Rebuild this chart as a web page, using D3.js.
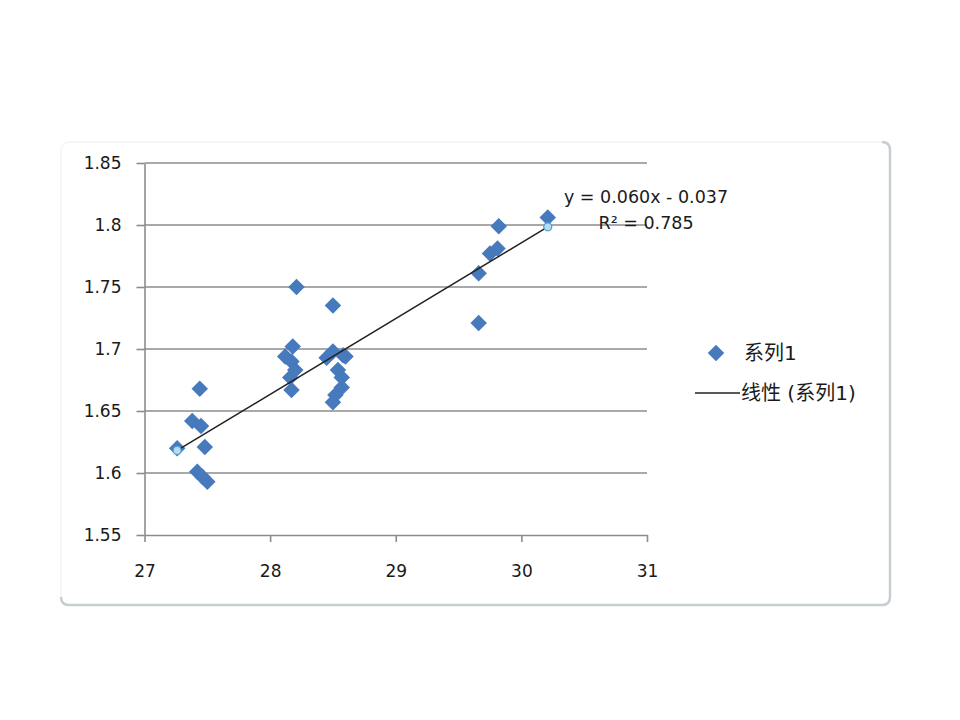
<!DOCTYPE html>
<html>
<head>
<meta charset="utf-8">
<script src="https://cdn.jsdelivr.net/npm/d3@7"></script>
<style>
  body { margin: 0; background: #fff; }
  text { font-family: "DejaVu Sans", "Noto Sans CJK SC", sans-serif; fill: #1a1a1a; }
</style>
</head>
<body>
<svg id="chart" width="960" height="720"></svg>
<script>
// values
const xValues = [27.26, 27.38, 27.44, 27.45, 27.48, 27.42, 27.46, 27.50,
  28.21, 28.18, 28.12, 28.17, 28.20, 28.16, 28.17,
  28.50, 28.45, 28.50, 28.58, 28.60, 28.54, 28.57, 28.57, 28.52, 28.50,
  29.82, 30.21, 29.75, 29.81, 29.66, 29.66]
const yValues = [1.620, 1.642, 1.668, 1.638, 1.621, 1.601, 1.597, 1.593,
  1.750, 1.702, 1.694, 1.690, 1.683, 1.677, 1.667,
  1.735, 1.693, 1.698, 1.695, 1.694, 1.683, 1.677, 1.669, 1.663, 1.657,
  1.799, 1.806, 1.777, 1.781, 1.761, 1.721]
const xTicks = [27, 28, 29, 30, 31]
const yTicks = [1.55, 1.6, 1.65, 1.7, 1.75, 1.8, 1.85]
const seriesName = "系列1"
const trendName = "线性 (系列1)"
const equationText = "y = 0.060x - 0.037"
const r2Text = "R² = 0.785"

const svg = d3.select("#chart")

// chart frame, only right and bottom edge really show
svg.append("rect")
  .attr("x", 61).attr("y", 142).attr("width", 829).attr("height", 463)
  .attr("rx", 8).attr("fill", "none").attr("stroke", "#f5f7f8").attr("stroke-width", 2)
svg.append("path")
  .attr("d", "M882,142 Q890,142 890,150 L890,597 Q890,605 882,605 L69,605 Q61,605 61,597")
  .attr("fill", "none").attr("stroke", "#c6ced2").attr("stroke-width", 2.5)

const x = d3.scaleLinear().domain([27, 31]).range([144.5, 647])
const y = d3.scaleLinear().domain([1.55, 1.85]).range([535, 163])

// gridlines
svg.append("g")
  .selectAll("line")
  .data(yTicks.slice(1))
  .join("line")
  .attr("x1", x(27)).attr("x2", x(31))
  .attr("y1", d => y(d)).attr("y2", d => y(d))
  .attr("stroke", "#8c8c8c").attr("stroke-width", 1.6)

const yAxis = svg.append("g")
  .attr("transform", "translate(" + x(27) + ",0)")
  .call(d3.axisLeft(y).tickValues(yTicks).tickFormat(d3.format("")).tickSizeInner(8).tickSizeOuter(0).tickPadding(15))
yAxis.selectAll("line, path").attr("stroke", "#8c8c8c").attr("stroke-width", 1.6)
yAxis.selectAll("text").style("font-size", "17px").attr("fill", "#1a1a1a")

const xAxis = svg.append("g")
  .attr("transform", "translate(0," + y(1.55) + ")")
  .call(d3.axisBottom(x).tickValues(xTicks).tickFormat(d3.format("d")).tickSizeInner(7).tickSizeOuter(0).tickPadding(23))
xAxis.selectAll("line, path").attr("stroke", "#8c8c8c").attr("stroke-width", 1.6)
xAxis.selectAll("text").style("font-size", "17px").attr("fill", "#1a1a1a")

// points
const points = xValues.map((v, i) => ({ x: v, y: yValues[i] }))
const diamond = d3.symbol(d3.symbolSquare, 136)
svg.append("g")
  .selectAll("path")
  .data(points)
  .join("path")
  .attr("d", diamond)
  .attr("transform", d => "translate(" + x(d.x) + "," + y(d.y) + ") rotate(45)")
  .attr("fill", "#4779bd")

// linear trendline, least squares over the points
const mx = d3.mean(xValues), my = d3.mean(yValues)
let sxy = 0, sxx = 0
points.forEach(p => { sxy += (p.x - mx) * (p.y - my); sxx += (p.x - mx) * (p.x - mx) })
const slope = sxy / sxx
const intercept = my - slope * mx
const trendX = d3.extent(xValues)
const trend = trendX.map(v => ({ x: v, y: slope * v + intercept }))

svg.append("line")
  .attr("x1", x(trend[0].x)).attr("y1", y(trend[0].y))
  .attr("x2", x(trend[1].x)).attr("y2", y(trend[1].y))
  .attr("stroke", "#222").attr("stroke-width", 1.5)
svg.append("g")
  .selectAll("circle")
  .data(trend)
  .join("circle")
  .attr("cx", d => x(d.x)).attr("cy", d => y(d.y)).attr("r", 4)
  .attr("fill", "#b9dcec").attr("stroke", "#4f9fcf").attr("stroke-width", 1.3)

// equation label
svg.append("text").attr("x", 646).attr("y", 203).attr("text-anchor", "middle")
  .style("font-size", "17.5px").text(equationText)
svg.append("text").attr("x", 646).attr("y", 229).attr("text-anchor", "middle")
  .style("font-size", "17.5px").text(r2Text)

// legend
const legend = svg.append("g")
legend.append("path")
  .attr("d", diamond)
  .attr("transform", "translate(716,353) rotate(45)")
  .attr("fill", "#4779bd")
legend.append("text").attr("x", 744).attr("y", 360).style("font-size", "20px").text(seriesName)
legend.append("line")
  .attr("x1", 695).attr("x2", 740).attr("y1", 393).attr("y2", 393)
  .attr("stroke", "#222").attr("stroke-width", 1.5)
legend.append("text").attr("x", 741).attr("y", 400).style("font-size", "20px").text(trendName)
</script>
</body>
</html>
